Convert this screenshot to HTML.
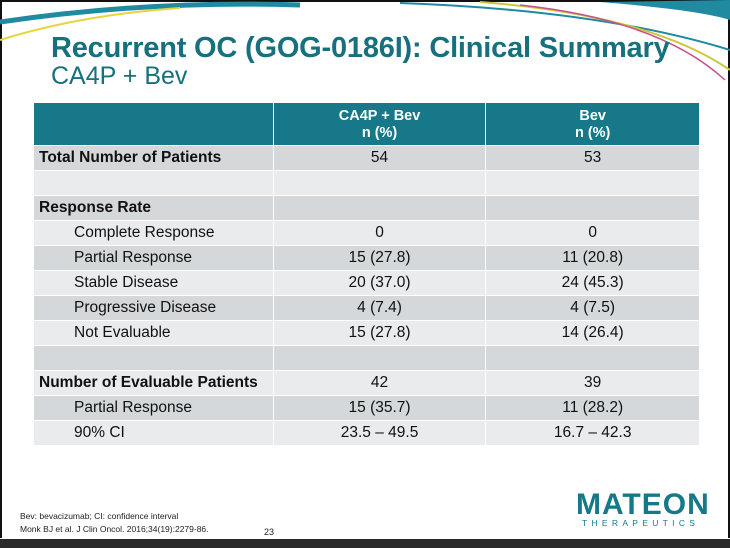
<!DOCTYPE html>
<html><head><meta charset="utf-8"><style>
body{margin:0;width:730px;height:548px;overflow:hidden;background:#fff;font-family:"Liberation Sans",Arial,sans-serif;position:relative}
.frame{position:absolute;left:0;top:0;height:538px;border-left:2px solid #111;border-right:2px solid #111;border-top:2px solid #111;box-sizing:border-box;width:730px}
.bot{position:absolute;left:0;top:539px;width:730px;height:9px;background:#2a2a2a}
h1{position:absolute;left:51px;top:32px;margin:0;font-size:29px;font-weight:bold;color:#16707e;letter-spacing:-0.2px;white-space:nowrap}
h2{position:absolute;left:51px;top:62px;margin:0;font-size:25px;font-weight:normal;color:#16707e;white-space:nowrap}
table{position:absolute;left:33px;top:103px;border-collapse:collapse;width:667px;font-size:15.5px;color:#111}
td{height:24px;padding:0;border:1px solid #fff;border-top:0;border-bottom:1px solid #fff}
td.c{text-align:center}
tr.h td{background:#17788a;color:#fff;font-weight:bold;height:40px;text-align:center;line-height:17px;padding-top:2px;font-size:14.5px}
tr.d td{background:#d4d8da}
tr.l td{background:#e9ebec}
td.b{font-weight:bold;padding-left:5px}
td.i{padding-left:40px}
.fn{position:absolute;left:20px;top:510px;font-size:8.5px;color:#222;line-height:13px}
.pg{position:absolute;left:264px;top:527px;font-size:9px;color:#222}
.logo{position:absolute;left:576px;top:488px;font-size:30px;font-weight:bold;color:#17788a;letter-spacing:1px}
.logo2{position:absolute;left:582px;top:518px;font-size:8.5px;color:#17788a;letter-spacing:4.3px}
</style></head><body>
<div class="frame"></div>
<svg style="position:absolute;left:0;top:0" width="730" height="90">
<path d="M0 22 Q150 0 300 5" stroke="#1f8aa0" stroke-width="5" fill="none"/>
<path d="M0 40 Q80 15 180 8" stroke="#e8d43a" stroke-width="2" fill="none"/>
<path d="M400 3 Q600 10 730 50" stroke="#1f8aa0" stroke-width="2" fill="none"/>
<path d="M480 2 Q650 15 730 70" stroke="#c8c83a" stroke-width="2" fill="none"/>
<path d="M520 5 Q660 20 725 80" stroke="#c8508a" stroke-width="1.5" fill="none"/>
<path d="M600 2 Q700 10 730 20 L730 0 Z" fill="#1f8aa0"/>
</svg>
<h1>Recurrent OC (GOG-0186I): Clinical Summary</h1>
<h2>CA4P + Bev</h2>
<table>
<colgroup><col style="width:240px"><col style="width:213px"><col style="width:214px"></colgroup>
<tr class="h"><td></td><td>CA4P + Bev<br>n (%)</td><td>Bev<br>n (%)</td></tr>
<tr class="d"><td class="b">Total Number of Patients</td><td class="c">54</td><td class="c">53</td></tr>
<tr class="l"><td></td><td></td><td></td></tr>
<tr class="d"><td class="b">Response Rate</td><td></td><td></td></tr>
<tr class="l"><td class="i">Complete Response</td><td class="c">0</td><td class="c">0</td></tr>
<tr class="d"><td class="i">Partial Response</td><td class="c">15 (27.8)</td><td class="c">11 (20.8)</td></tr>
<tr class="l"><td class="i">Stable Disease</td><td class="c">20 (37.0)</td><td class="c">24 (45.3)</td></tr>
<tr class="d"><td class="i">Progressive Disease</td><td class="c">4 (7.4)</td><td class="c">4 (7.5)</td></tr>
<tr class="l"><td class="i">Not Evaluable</td><td class="c">15 (27.8)</td><td class="c">14 (26.4)</td></tr>
<tr class="d"><td></td><td></td><td></td></tr>
<tr class="l"><td class="b">Number of Evaluable Patients</td><td class="c">42</td><td class="c">39</td></tr>
<tr class="d"><td class="i">Partial Response</td><td class="c">15 (35.7)</td><td class="c">11 (28.2)</td></tr>
<tr class="l"><td class="i">90% CI</td><td class="c">23.5 – 49.5</td><td class="c">16.7 – 42.3</td></tr>
</table>
<div class="fn">Bev: bevacizumab; CI: confidence interval<br>Monk BJ et al. J Clin Oncol. 2016;34(19):2279-86.</div>
<div class="pg">23</div>
<div class="logo">MATEON</div>
<div class="logo2">THERAPEUTICS</div>
<div class="bot"></div>
</body></html>
